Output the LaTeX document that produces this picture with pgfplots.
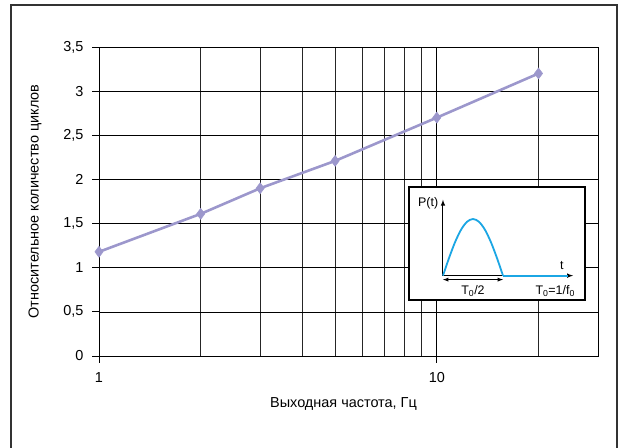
\documentclass[border=0pt]{standalone}
\usepackage{pgfplots}
\pgfplotsset{compat=1.18}
\usepackage{fontspec}
\setmainfont{Liberation Sans}
\definecolor{lav}{HTML}{9C97CC}
\definecolor{sky}{HTML}{1BA6E4}
\definecolor{frame}{HTML}{333333}
\begin{document}
\begin{tikzpicture}
\useasboundingbox (0,0) rectangle (620bp,448bp);
\draw[frame, line width=1.5bp] (11bp,-2bp) -- (11bp,443bp) -- (617bp,443bp) -- (617bp,-2bp);
\begin{axis}[
  name=main,
  at={(99bp,92bp)}, anchor=south west,
  scale only axis, width=499bp, height=309bp,
  xmode=log, xmin=1, xmax=30, ymin=0, ymax=3.5,
  font=\fontsize{14.5}{17}\selectfont,
  /pgf/number format/assume math mode=true,
  xtick={1,10}, xticklabels={1,10},
  minor xtick={2,3,4,5,6,7,8,9,20,30},
  ytick={0,0.5,...,3.5},
  yticklabel style={/pgf/number format/use comma, /pgf/number format/fixed, /pgf/number format/precision=1, xshift=-5bp},
  xticklabel style={yshift=-6bp},
  grid=both,
  major grid style={black, line width=0.7bp},
  minor grid style={black!85, line width=0.6bp},
  axis line style={black, line width=0.9bp},
  tick style={black, line width=0.8bp},
  major tick length=7bp, minor tick length=0bp,
  tick align=outside, xtick pos=bottom, ytick pos=left,
  xlabel={Выходная частота, Гц},
  ylabel={Относительное количество циклов},
  xlabel style={at={(axis description cs:0.49,-0.155)}, anchor=center},
  ylabel style={at={(axis description cs:-0.128,0.5)}, anchor=center},
]
\addplot[lav, line width=2.6bp, mark=diamond*, mark size=5.5bp, mark options={fill=lav, draw=lav, line width=0.5bp}]
  coordinates {(1,1.18) (2,1.61) (3,1.90) (5,2.21) (10,2.70) (20,3.20)};
\end{axis}
\begin{axis}[
  at={(409bp,148bp)}, anchor=south west,
  scale only axis, width=176bp, height=113bp,
  xmin=-0.283, xmax=1.183, ymin=-0.43, ymax=1.565,
  axis line style={black, line width=2bp},
  axis background/.style={fill=white},
  xtick=\empty, ytick=\empty,
  clip=false,
  font=\fontsize{12.5}{14}\selectfont,
]
\draw[black, line width=1bp, -latex] (axis cs:0,0) -- (axis cs:0,1.34);
\draw[black, line width=1bp, -latex] (axis cs:0,0) -- (axis cs:1.083,0);
\addplot[sky, line width=1.8bp, smooth] coordinates {
  (0,0) (0.05,0.309) (0.1,0.588) (0.15,0.809) (0.2,0.951) (0.25,1.0)
  (0.3,0.951) (0.35,0.809) (0.4,0.588) (0.45,0.309) (0.5,0)};
\addplot[sky, line width=2.2bp] coordinates {(0.5,0) (1.04,0)};
\draw[black, line width=0.9bp, latex-latex] (axis cs:0,-0.07) -- (axis cs:0.5,-0.07);
\node[anchor=east, inner sep=1bp] at (axis cs:-0.03,1.28) {P(t)};
\node at (axis cs:0.99,0.17) {t};
\node at (axis cs:0.25,-0.27) {T\textsubscript{0}/2};
\node at (axis cs:0.935,-0.27) {T\textsubscript{0}=1/f\textsubscript{0}};
\end{axis}
\end{tikzpicture}
\end{document}
